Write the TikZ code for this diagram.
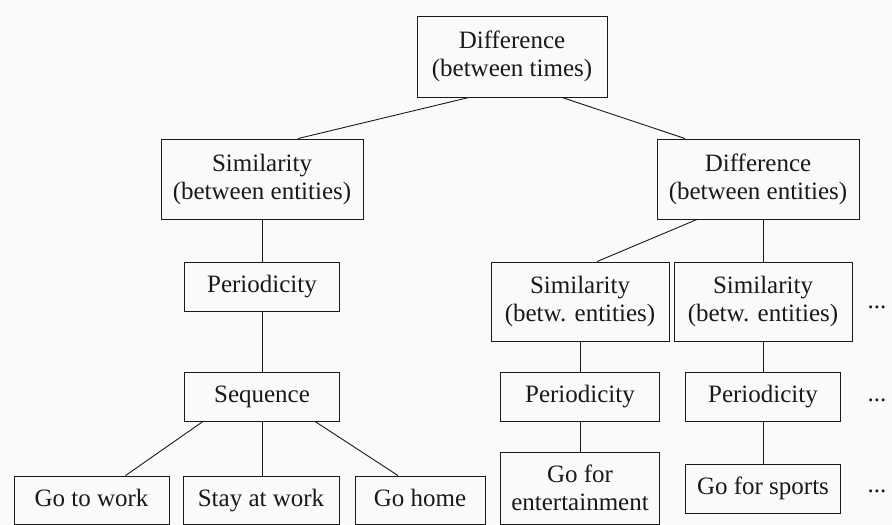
\documentclass[tikz,border=0pt]{standalone}
\usepackage{fontspec}
\setmainfont{Liberation Serif}
\newfontfamily\treefont{Liberation Serif}
\usepackage{tikz}
\usetikzlibrary{calc}
\definecolor{paper}{RGB}{250,250,250}
\definecolor{ink}{RGB}{25,25,25}

\tikzset{
  box/.style={draw=ink, line width=0.9pt, inner sep=0pt, align=center,
    font=\treefont\fontsize{25}{28}\selectfont, text=ink},
  oneline/.style={text height=17pt, text depth=5pt},
  link/.style={draw=ink, line width=0.9pt},
  more/.style={inner sep=0pt, font=\treefont\fontsize{25}{28}\selectfont, text=ink}
}

\begin{document}
\begin{tikzpicture}[x=1pt,y=-1pt]

\fill[paper] (0,0) rectangle (892,525);
\useasboundingbox (0,0) rectangle (892,525);

% top of the tree
\node [box, minimum width=190pt, minimum height=81pt] (times) at (512,56.5) {Difference\\(between times)};

% left branch
\node [box, minimum width=202pt, minimum height=80pt] (simE) at (262,179) {Similarity\\(between entities)};
\node [box, oneline, minimum width=155pt, minimum height=49pt] (perL) at (262,286.5) {Periodicity};
\node [box, oneline, minimum width=155pt, minimum height=49pt] (seq) at (262,396.5) {Sequence};
\node [box, oneline, minimum width=155pt, minimum height=48pt] (work) at (91.5,500) {Go to work};
\node [box, oneline, minimum width=156pt, minimum height=48pt] (stay) at (261,500) {Stay at work};
\node [box, oneline, minimum width=130pt, minimum height=48pt] (home) at (420,500) {Go home};

% right branch
\node [box, minimum width=202pt, minimum height=80pt] (difE) at (758,179) {Difference\\(between entities)};
\node [box, minimum width=178pt, minimum height=79pt] (simA) at (580,301.5) {Similarity\\(betw. entities)};
\node [box, minimum width=178pt, minimum height=79pt] (simB) at (763,301.5) {Similarity\\(betw. entities)};
\node [box, oneline, minimum width=159pt, minimum height=49pt] (perA) at (580,396.5) {Periodicity};
\node [box, oneline, minimum width=155pt, minimum height=49pt] (perB) at (763,396.5) {Periodicity};
\node [box, minimum width=159pt, minimum height=72pt] (fun) at (580,488) {Go for\\entertainment};
\node [box, oneline, minimum width=155pt, minimum height=49pt] (sport) at (763,488.5) {Go for sports};
\node [more] (dotsA) at (877,307) {...};
\node [more] (dotsB) at (877,400) {...};
\node [more] (dotsC) at (877,491) {...};

% connectors
\draw [link] ([xshift=-43pt]times.south) -- ([xshift=36pt]simE.north);
\draw [link] ([xshift=50pt]times.south) -- ([xshift=-73pt]difE.north);
\draw [link] (simE) -- (perL);
\draw [link] (perL) -- (seq);
\draw [link] ([xshift=-59pt]seq.south) -- ([xshift=34pt]work.north);
\draw [link] (seq.south) -- (seq.south |- stay.north);
\draw [link] ([xshift=53pt]seq.south) -- ([xshift=-22pt]home.north);
\draw [link] ([xshift=-61pt]difE.south) -- ([xshift=17pt]simA.north);
\draw [link] (simB.north) -- (simB.north |- difE.south);
\draw [link] (simA) -- (perA);
\draw [link] (perA) -- (fun);
\draw [link] (simB) -- (perB);
\draw [link] (perB) -- (sport);

\end{tikzpicture}
\end{document}
